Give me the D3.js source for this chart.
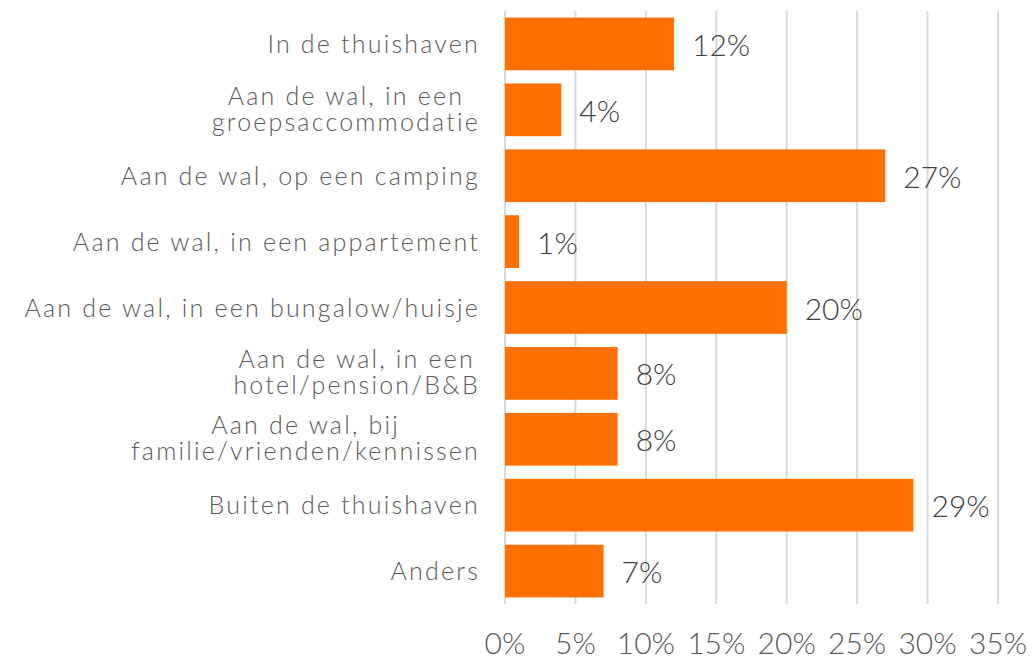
<!DOCTYPE html>
<html><head><meta charset="utf-8">
<script src="https://cdn.jsdelivr.net/npm/d3@7"></script>
<style>body{margin:0;background:#fff}svg{display:block}</style>
</head><body>
<svg id="c" width="1033" height="660"></svg>
<script>
const categories = [
  ["In de thuishaven"],
  ["Aan de wal, in een", "groepsaccommodatie"],
  ["Aan de wal, op een camping"],
  ["Aan de wal, in een appartement"],
  ["Aan de wal, in een bungalow/huisje"],
  ["Aan de wal, in een", "hotel/pension/B&B"],
  ["Aan de wal, bij", "familie/vrienden/kennissen"],
  ["Buiten de thuishaven"],
  ["Anders"]
];
const values = [12, 4, 27, 1, 20, 8, 8, 29, 7];
const tickValues = [0, 5, 10, 15, 20, 25, 30, 35];

const FONT = "Lato";
const svg = d3.select("#c");
const m = {left: 505, right: 998, top: 11, bottom: 604};
const x = d3.scaleLinear().domain([0, 35]).range([m.left, m.right]);
const y = d3.scaleBand().domain(d3.range(categories.length)).range([m.top, m.bottom]).paddingInner(0.2).paddingOuter(0.1);

// gridlines
svg.append("g").selectAll("line").data(tickValues).join("line")
  .attr("x1", d => x(d)).attr("x2", d => x(d))
  .attr("y1", m.top).attr("y2", m.bottom)
  .attr("stroke", "#d9d9d9").attr("stroke-width", 2);

// bars
svg.append("g").selectAll("rect").data(values).join("rect")
  .attr("x", x(0)).attr("y", (d, i) => y(i))
  .attr("width", d => x(d) - x(0)).attr("height", y.bandwidth())
  .attr("fill", "#ff7000");

// value labels
svg.append("g").selectAll("text").data(values).join("text")
  .attr("x", d => x(d) + 18).attr("y", (d, i) => y(i) + y.bandwidth() / 2 + 12)
  .attr("font-family", FONT).attr("font-weight", 300).attr("font-size", 30).attr("fill", "#404040")
  .text(d => d + "%");

// category labels (multi-line labels centred within their block, block right-aligned)
const labelRight = 480;
const LS = 2.2;
const ct = svg.append("g").selectAll("text").data(categories).join("text")
  .attr("font-family", FONT).attr("font-weight", 300).attr("font-size", 25)
  .attr("letter-spacing", LS).attr("fill", "#595959")
  .attr("transform", (d, i) => `translate(0,${y(i) + y.bandwidth() / 2})`);
ct.each(function(lines) {
  const t = d3.select(this);
  const n = lines.length;
  const spans = t.selectAll("tspan").data(lines).join("tspan")
    .attr("y", (s, k) => (n === 1 ? 9 : 8) + (k - (n - 1) / 2) * 26)
    .text(s => s);
  if (n === 1) {
    t.attr("text-anchor", "end");
    spans.attr("x", labelRight);
  } else {
    let maxW = 0;
    spans.each(function() { maxW = Math.max(maxW, this.getComputedTextLength()); });
    t.attr("text-anchor", "middle");
    spans.attr("x", labelRight - maxW / 2);
  }
});

// x tick labels
svg.append("g").selectAll("text").data(tickValues).join("text")
  .attr("x", d => x(d)).attr("y", 654)
  .attr("text-anchor", "middle")
  .attr("font-family", FONT).attr("font-weight", 300).attr("font-size", 30).attr("fill", "#595959")
  .text(d => d + "%");
</script>
</body></html>
